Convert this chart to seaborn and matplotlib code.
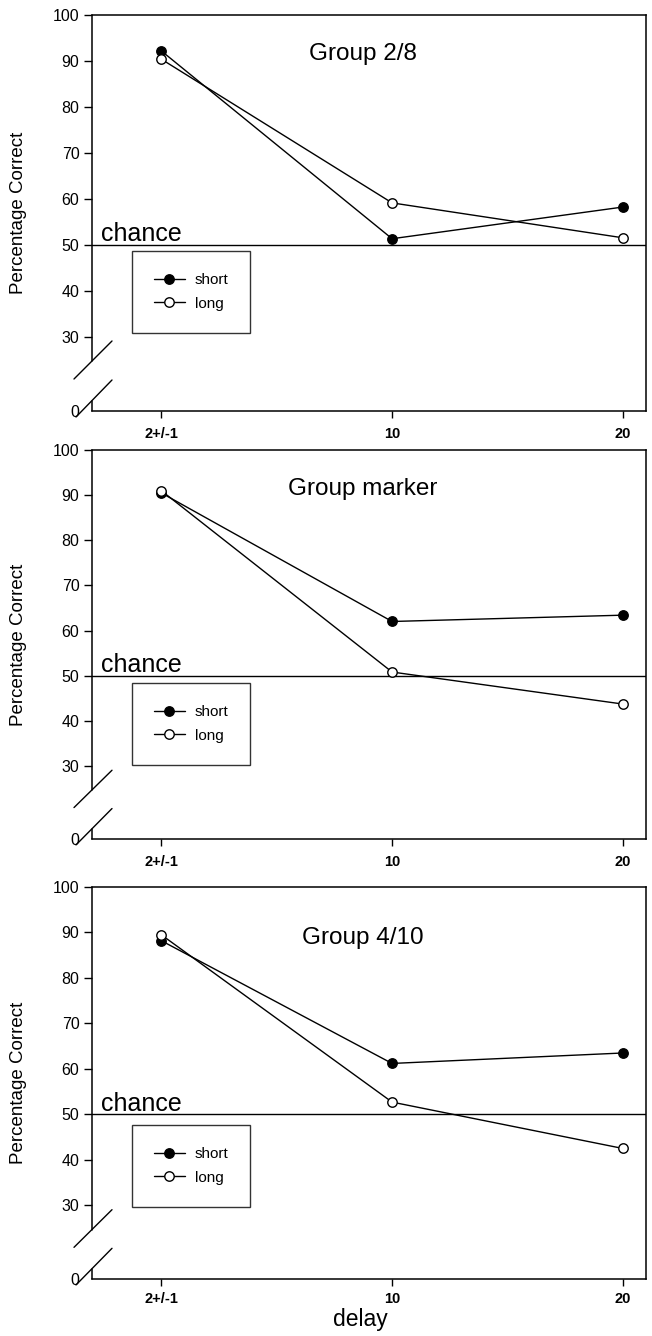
import matplotlib
matplotlib.use("Agg")
import matplotlib.pyplot as plt
import seaborn as sns
import pandas as pd

# ---- data ----
delays = ["2+/-1", "10", "20"]
groups = ["Group 2/8", "Group marker", "Group 4/10"]
short_2_8 = [92.2, 51.3, 58.2]
long_2_8 = [90.4, 59.1, 51.5]
short_marker = [90.5, 62.0, 63.4]
long_marker = [91.0, 50.8, 43.7]
short_4_10 = [88.2, 61.2, 63.5]
long_4_10 = [89.5, 52.7, 42.5]
chance_level = 50
ytick_values = [13.8, 30, 40, 50, 60, 70, 80, 90, 100]
ytick_labels = ["0", "30", "40", "50", "60", "70", "80", "90", "100"]

series = [(short_2_8, long_2_8), (short_marker, long_marker), (short_4_10, long_4_10)]

sns.set_style("ticks")
plt.rcParams["font.family"] = ["Liberation Sans", "DejaVu Sans"]
plt.rcParams["text.color"] = "black"
plt.rcParams["axes.labelcolor"] = "black"
plt.rcParams["xtick.color"] = "black"
plt.rcParams["ytick.color"] = "black"

fig = plt.figure(figsize=(6.52, 13.36), dpi=100)

W, H = 652.0, 1336.0
panels_px = [(15, 411), (450, 839), (887, 1279)]
title_y = [0.886, 0.884, 0.854]
legend_y = [0.404, 0.401, 0.393]

for i, (top, bot) in enumerate(panels_px):
    ax = fig.add_axes([92 / W, 1 - bot / H, (646 - 92) / W, (bot - top) / H])
    s_vals, l_vals = series[i]
    df_s = pd.DataFrame({"delay": delays, "pct": s_vals})
    df_l = pd.DataFrame({"delay": delays, "pct": l_vals})
    sns.lineplot(data=df_s, x="delay", y="pct", ax=ax, sort=False, color="black",
                 lw=1.0, marker="o", markersize=6.8, markerfacecolor="black",
                 markeredgecolor="black", markeredgewidth=1.0, label="short")
    sns.lineplot(data=df_l, x="delay", y="pct", ax=ax, sort=False, color="black",
                 lw=1.0, marker="o", markersize=6.8, markerfacecolor="white",
                 markeredgecolor="black", markeredgewidth=1.0, label="long")

    ax.axhline(chance_level, color="black", lw=1.0, zorder=1)
    ax.text(-0.262, chance_level + 0.7, "chance", fontsize=18, ha="left", va="baseline")
    ax.text(0.489, title_y[i], groups[i], transform=ax.transAxes, fontsize=17.5,
            ha="center", va="baseline")

    ax.set_xlim(-0.30, 2.10)
    ax.set_ylim(13.8, 100)
    ax.set_xticks(range(len(delays)))
    ax.set_xticklabels(delays, fontsize=10.5, fontweight="bold")
    ax.set_yticks(ytick_values)
    ax.set_yticklabels(ytick_labels, fontsize=11.5)
    ax.yaxis.get_major_ticks()[0].tick1line.set_visible(False)
    ax.tick_params(axis="y", length=6, width=1.0, pad=3, color="black")
    ax.tick_params(axis="x", length=5, width=1.0, pad=(4.5 if i == 2 else 6.5),
                   color="black")

    for side in ["top", "right", "bottom"]:
        ax.spines[side].set_visible(True)
        ax.spines[side].set_color("black")
        ax.spines[side].set_linewidth(1.1)
    ax.spines["left"].set_visible(False)
    # broken left axis
    ax.plot([0, 0], [0.126, 1], transform=ax.transAxes, color="black", lw=1.1, clip_on=False)
    ax.plot([0, 0], [0, 0.025], transform=ax.transAxes, color="black", lw=1.1, clip_on=False)
    ax.plot([-0.0325, 0.0361], [0.0808, 0.1768], transform=ax.transAxes, color="black",
            lw=1.0, clip_on=False)
    ax.plot([-0.0289, 0.0361], [-0.0152, 0.0783], transform=ax.transAxes, color="black",
            lw=1.0, clip_on=False)

    ax.set_ylabel("Percentage Correct", fontsize=13.5)
    ax.yaxis.set_label_coords(-0.118, 0.5)
    if i == 2:
        ax.set_xlabel("delay", fontsize=16.5)
        ax.xaxis.set_label_coords(0.484, -0.075)
    else:
        ax.set_xlabel("")

    leg = ax.legend(loc="upper left", bbox_to_anchor=(0.072, legend_y[i]),
                    borderaxespad=0, fontsize=11, frameon=True, fancybox=False,
                    borderpad=1.45, labelspacing=0.62, handlelength=2.0,
                    handletextpad=0.65)
    leg.get_frame().set_edgecolor("black")
    leg.get_frame().set_linewidth(1.0)

fig.savefig("out.png", dpi=100)
